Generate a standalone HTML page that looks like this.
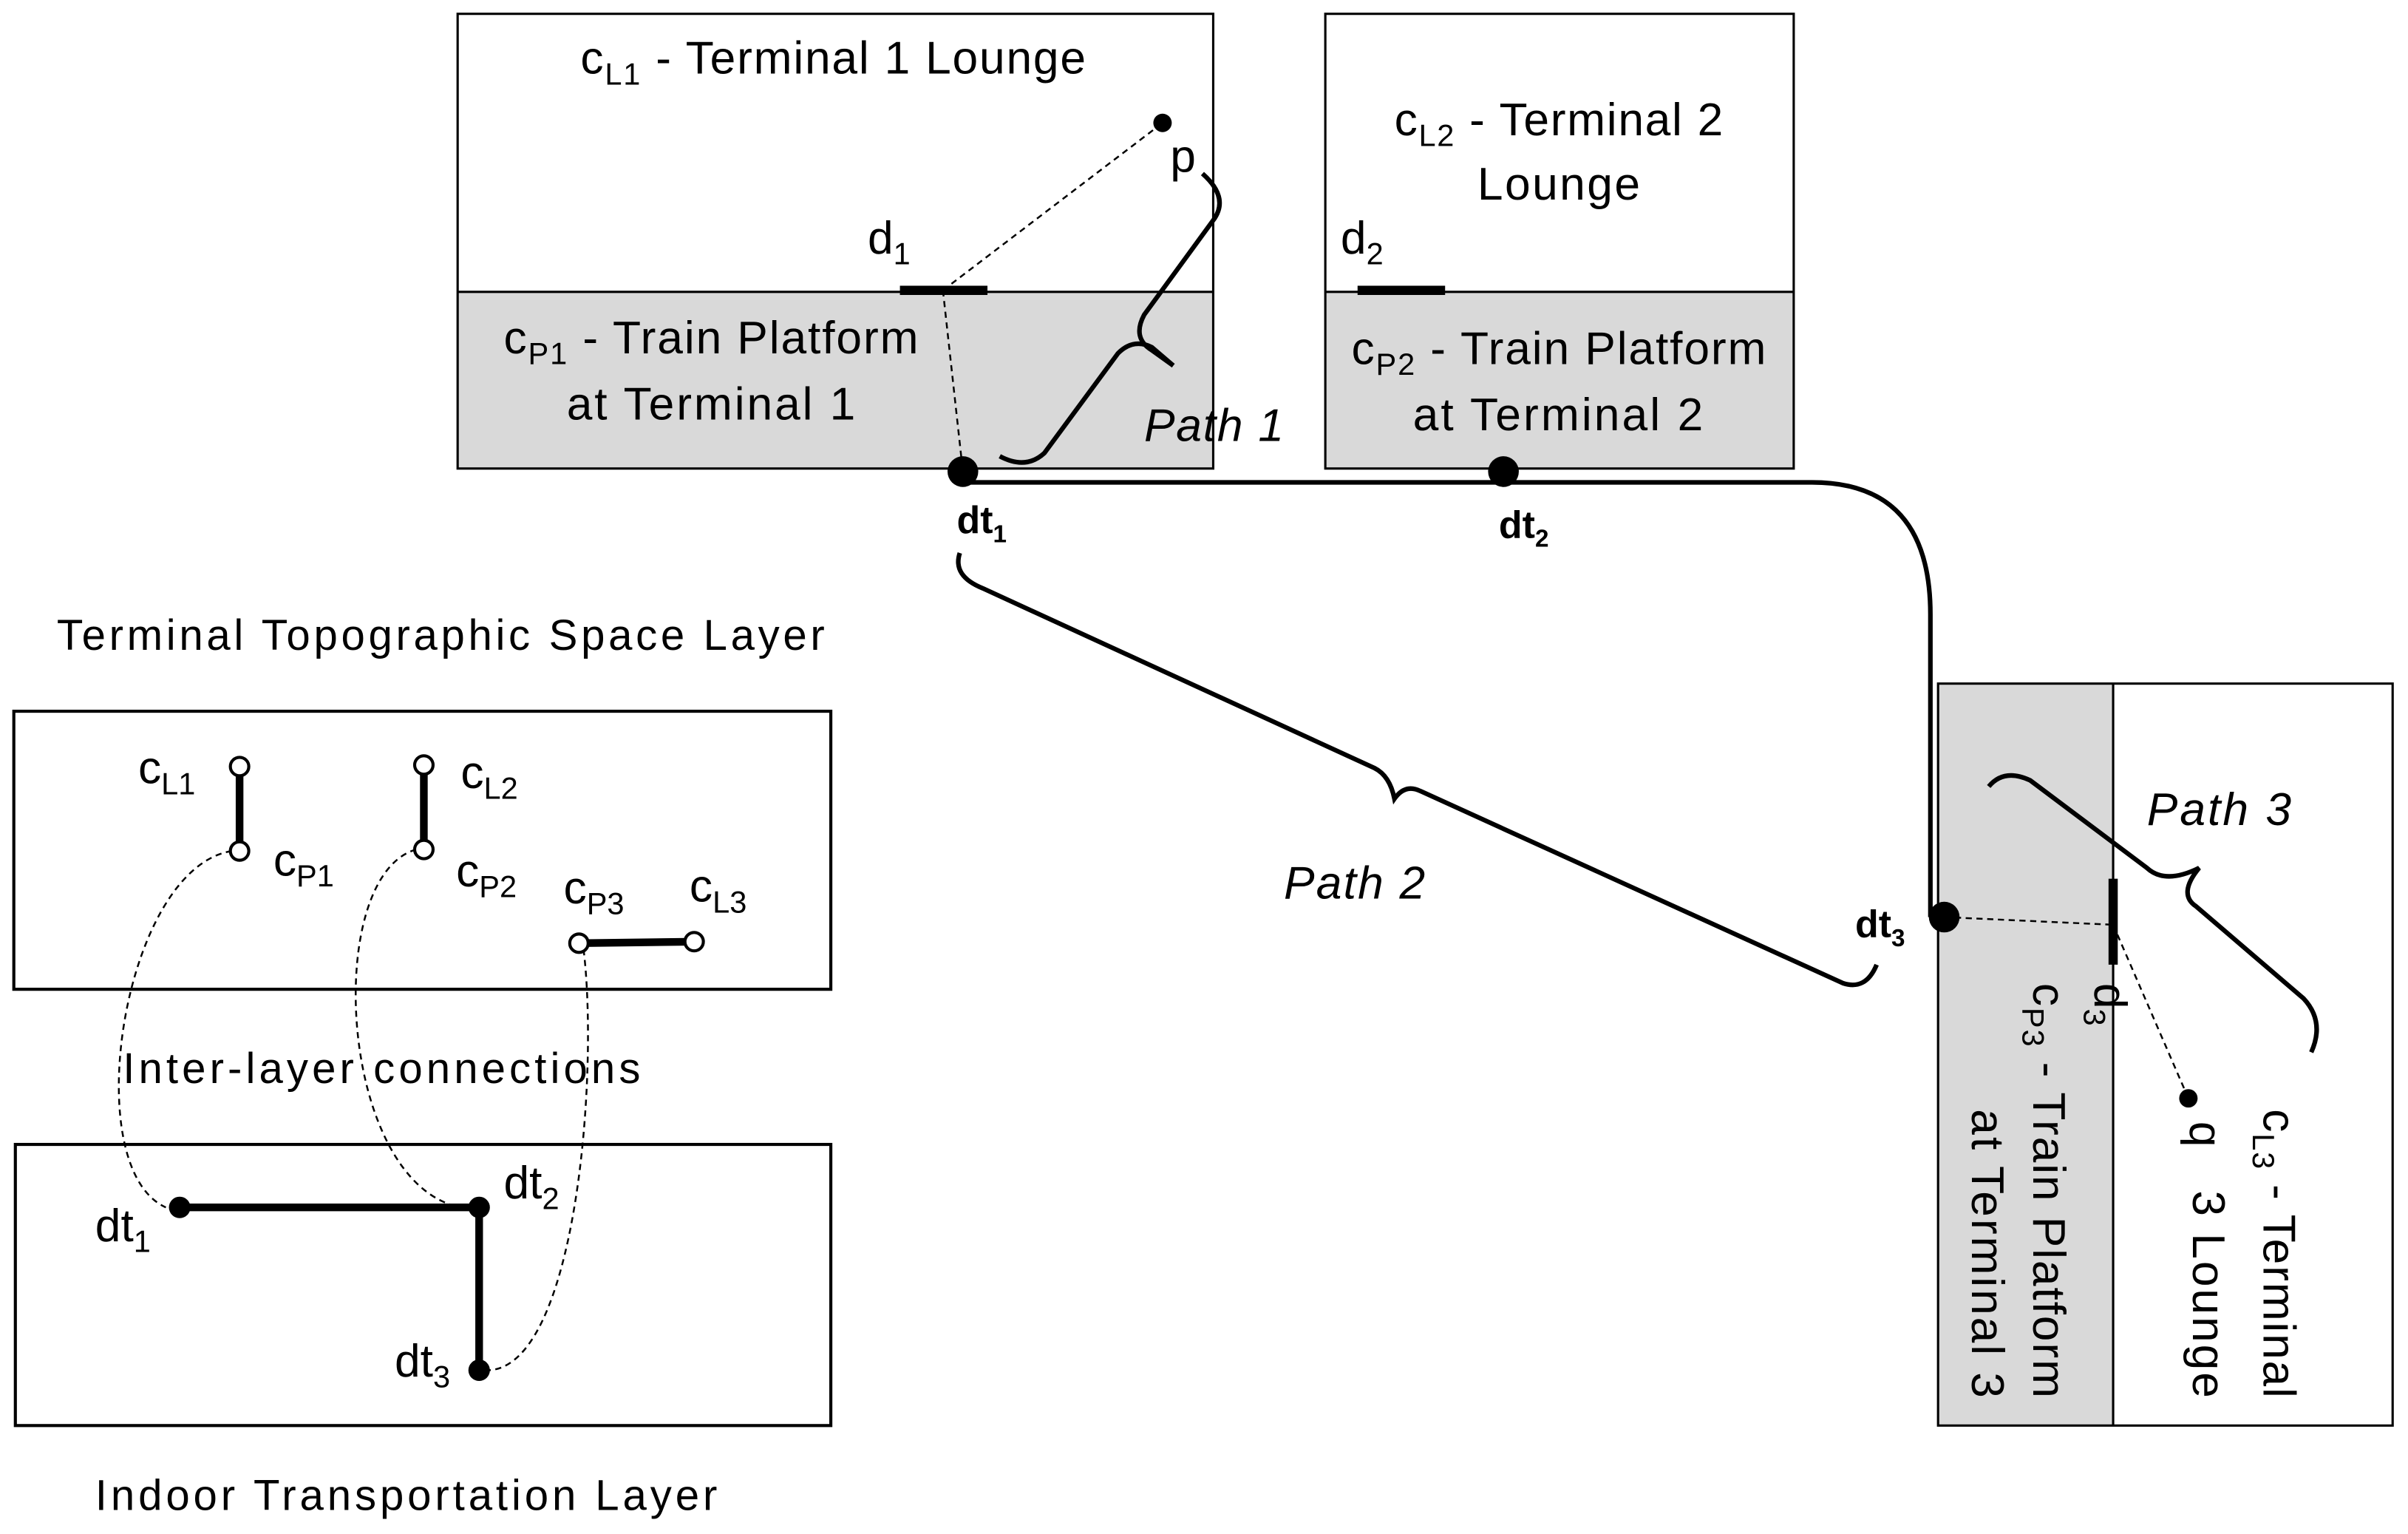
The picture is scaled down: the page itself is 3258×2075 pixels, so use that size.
<!DOCTYPE html>
<html><head><meta charset="utf-8"><style>html,body{margin:0;padding:0;background:#fff}svg{display:block}</style></head>
<body>
<svg xmlns="http://www.w3.org/2000/svg" width="3258" height="2075" viewBox="0 0 1568 998.6" preserveAspectRatio="none" font-family="'Liberation Sans', sans-serif">
<rect width="1568" height="998.6" fill="#fff"/>
<!-- Terminal 1 -->
<rect x="298" y="190" width="492" height="115" fill="#d9d9d9"/>
<rect x="298" y="9" width="492" height="296" fill="none" stroke="#000" stroke-width="1.5"/>
<line x1="298" y1="190" x2="790" y2="190" stroke="#000" stroke-width="1.5"/>
<!-- Terminal 2 -->
<rect x="863" y="190" width="305" height="115" fill="#d9d9d9"/>
<rect x="863" y="9" width="305" height="296" fill="none" stroke="#000" stroke-width="1.5"/>
<line x1="863" y1="190" x2="1168" y2="190" stroke="#000" stroke-width="1.5"/>
<!-- Terminal 3 -->
<rect x="1262" y="445" width="114" height="483" fill="#d9d9d9"/>
<rect x="1262" y="445" width="296" height="483" fill="none" stroke="#000" stroke-width="1.5"/>
<line x1="1376" y1="445" x2="1376" y2="928" stroke="#000" stroke-width="1.5"/>

<g font-size="30" fill="#000">
<text x="378" y="48" textLength="329">c<tspan font-size="20" dy="7">L1</tspan><tspan dy="-7"> - Terminal 1 Lounge</tspan></text>
<text x="328" y="230" textLength="270">c<tspan font-size="20" dy="7">P1</tspan><tspan dy="-7"> - Train Platform</tspan></text>
<text x="369" y="273" textLength="188">at Terminal 1</text>
<text x="908" y="88" textLength="214">c<tspan font-size="20" dy="7">L2</tspan><tspan dy="-7"> - Terminal 2</tspan></text>
<text x="962" y="130" textLength="106">Lounge</text>
<text x="880" y="237" textLength="270">c<tspan font-size="20" dy="7">P2</tspan><tspan dy="-7"> - Train Platform</tspan></text>
<text x="920" y="280" textLength="189">at Terminal 2</text>
<text x="565" y="165">d<tspan font-size="20" dy="7">1</tspan></text>
<text x="873" y="165">d<tspan font-size="20" dy="7">2</tspan></text>
<text x="762" y="112">p</text>
<text font-style="italic" x="745" y="287" textLength="91">Path 1</text>
<text font-style="italic" x="836" y="585" textLength="92">Path 2</text>
<text font-style="italic" x="1398" y="537" textLength="94">Path 3</text>
<!-- rotated T3 -->
<text transform="translate(1324,640) rotate(90)" textLength="270">c<tspan font-size="20" dy="7">P3</tspan><tspan dy="-7"> - Train Platform</tspan></text>
<text transform="translate(1284,722) rotate(90)" textLength="188">at Terminal 3</text>
<text transform="translate(1474,722) rotate(90)" textLength="188">c<tspan font-size="20" dy="7">L3</tspan><tspan dy="-7"> - Terminal</tspan></text>
<text transform="translate(1428,775) rotate(90)" textLength="135">3 Lounge</text>
<text transform="translate(1364,640) rotate(90)">d<tspan font-size="20" dy="7">3</tspan></text>
<text transform="translate(1426,730) rotate(90)">q</text>
</g>
<g font-size="25" font-weight="bold">
<text x="623" y="347">dt<tspan font-size="16" dy="6">1</tspan></text>
<text x="976" y="350">dt<tspan font-size="16" dy="6">2</tspan></text>
<text x="1208" y="610">dt<tspan font-size="16" dy="6">3</tspan></text>
</g>

<!-- door bars -->
<line x1="586" y1="189" x2="643" y2="189" stroke="#000" stroke-width="6"/>
<line x1="884" y1="189" x2="941" y2="189" stroke="#000" stroke-width="6"/>
<line x1="1376" y1="572" x2="1376" y2="628" stroke="#000" stroke-width="6"/>
<!-- dashed -->
<g stroke="#000" stroke-width="1.2" stroke-dasharray="4,3" fill="none">
<line x1="614" y1="189" x2="757" y2="80"/>
<line x1="614" y1="189" x2="627" y2="307"/>
<line x1="1266" y1="597" x2="1376" y2="602"/>
<line x1="1376" y1="602" x2="1425" y2="715"/>
</g>
<!-- track -->
<path d="M627,314 L1180,314 Q1257,314 1257,400 L1257,597" fill="none" stroke="#000" stroke-width="3"/>
<circle cx="627" cy="307" r="10"/>
<circle cx="979" cy="307" r="10"/>
<circle cx="1266" cy="597" r="10"/>
<circle cx="757" cy="80" r="6"/>
<circle cx="1425" cy="715" r="6"/>
<!-- braces -->
<g fill="none" stroke="#000" stroke-width="3">
<path d="M651,297 Q668,306 680,295 L728,230 Q738,220 750,226 L764,238"/>
<path d="M764,238 L750,228 Q737,220 745,205 L791,142 Q800,128 783,113"/>
<path d="M625,360 Q620,375 640,383 L895,500 Q905,505 908,520 Q915,510 925,515 L1200,640 Q1215,645 1222,628"/>
<path d="M1295,512 Q1305,500 1322,508 L1398,565 Q1410,576 1432,565 Q1418,582 1430,590 L1500,650 Q1514,665 1505,685"/>
</g>

<!-- Lower left -->
<g font-size="28">
<text x="37" y="423" textLength="500">Terminal Topographic  Space Layer</text>
<text x="80" y="705" textLength="337">Inter-layer connections</text>
<text x="62" y="983" textLength="405">Indoor Transportation Layer</text>
</g>
<rect x="9" y="463" width="532" height="181" fill="none" stroke="#000" stroke-width="2"/>
<rect x="10" y="745" width="531" height="183" fill="none" stroke="#000" stroke-width="2"/>
<g stroke="#000" stroke-width="1.2" stroke-dasharray="4,3" fill="none">
<path d="M151,554 C80,565 50,760 108,786"/>
<path d="M271,553 C210,570 220,770 300,786"/>
<path d="M380,618 C390,700 375,890 318,892"/>
</g>
<g stroke="#000" stroke-width="5">
<line x1="156" y1="499" x2="156" y2="554"/>
<line x1="276" y1="498" x2="276" y2="553"/>
<line x1="377" y1="614" x2="452" y2="613"/>
<line x1="117" y1="786" x2="312" y2="786"/>
<line x1="312" y1="786" x2="312" y2="892"/>
</g>
<g fill="#fff" stroke="#000" stroke-width="2">
<circle cx="156" cy="499" r="6"/><circle cx="156" cy="554" r="6"/>
<circle cx="276" cy="498" r="6"/><circle cx="276" cy="553" r="6"/>
<circle cx="377" cy="614" r="6"/><circle cx="452" cy="613" r="6"/>
</g>
<circle cx="117" cy="786" r="7"/><circle cx="312" cy="786" r="7"/><circle cx="312" cy="892" r="7"/>
<g font-size="30">
<text x="90" y="510">c<tspan font-size="20" dy="7">L1</tspan></text>
<text x="178" y="570">c<tspan font-size="20" dy="7">P1</tspan></text>
<text x="300" y="513">c<tspan font-size="20" dy="7">L2</tspan></text>
<text x="297" y="577">c<tspan font-size="20" dy="7">P2</tspan></text>
<text x="367" y="588">c<tspan font-size="20" dy="7">P3</tspan></text>
<text x="449" y="587">c<tspan font-size="20" dy="7">L3</tspan></text>
<text x="62" y="808">dt<tspan font-size="20" dy="7">1</tspan></text>
<text x="328" y="780">dt<tspan font-size="20" dy="7">2</tspan></text>
<text x="257" y="896">dt<tspan font-size="20" dy="7">3</tspan></text>
</g>
</svg>
</body></html>
